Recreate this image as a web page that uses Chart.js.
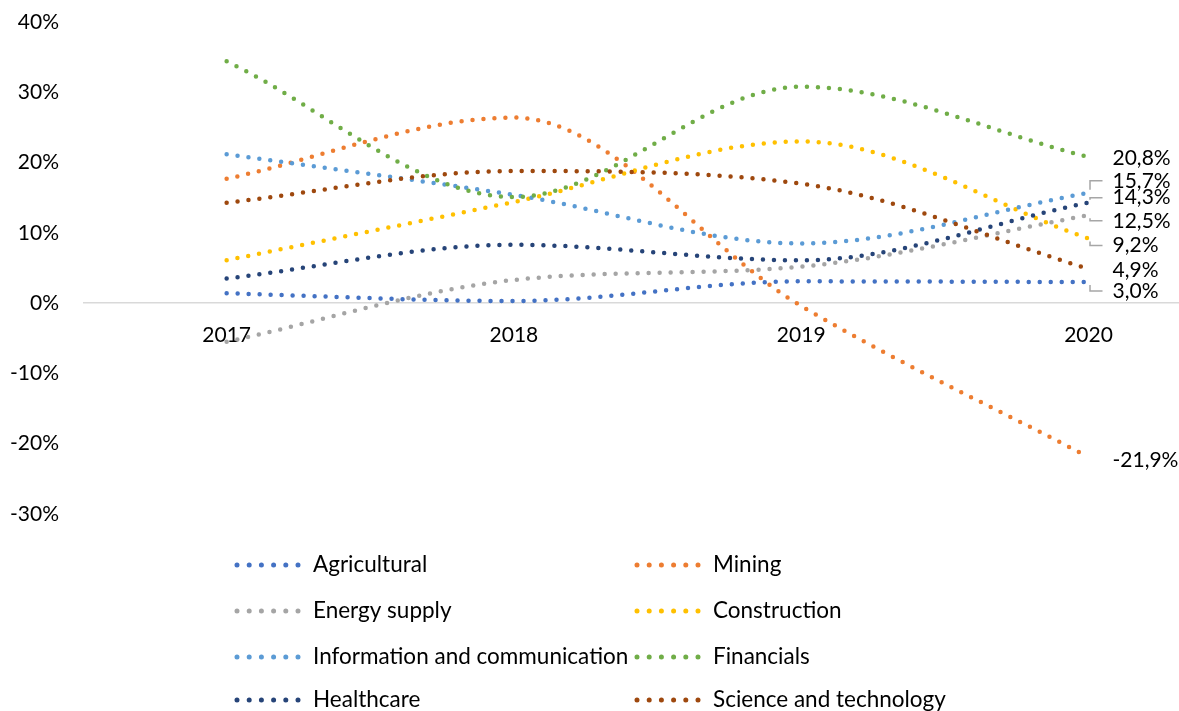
<!DOCTYPE html>
<html>
<head>
<meta charset="utf-8">
<script src="https://cdn.jsdelivr.net/npm/chart.js@4.4.1/dist/chart.umd.min.js"></script>
<style>
  html, body { margin: 0; padding: 0; background: #fff; overflow: hidden; }
  #wrap { width: 1179px; height: 711px; }
</style>
</head>
<body>
<div id="wrap"><canvas id="sector-chart" width="1179" height="711"></canvas></div>
<script>
var years = [2017, 2018, 2019, 2020];
var seriesNames = ["Agricultural", "Mining", "Energy supply", "Construction",
  "Information and communication", "Financials", "Healthcare", "Science and technology"];

var agricultural = [1.4, 0.3, 3.1, 3.0];
var mining = [17.7, 26.4, -0.4, -21.9];
var energySupply = [-5.5, 3.3, 5.2, 12.5];
var construction = [6.1, 14.4, 23.0, 9.2];
var infoComm = [21.2, 15.4, 8.5, 15.7];
var financials = [34.4, 15.1, 30.8, 20.8];
var healthcare = [3.5, 8.3, 6.1, 14.3];
var scienceTech = [14.3, 18.8, 17.0, 4.9];

var seriesValues = [agricultural, mining, energySupply, construction, infoComm, financials, healthcare, scienceTech];
var colors = ["#4472C4", "#ED7D31", "#A5A5A5", "#FFC000", "#5B9BD5", "#70AD47", "#264478", "#9E480E"];

// vertical shift of the 2020 value labels (px), leader line when shifted
var labelShift = [9, 3, 5.5, 7, -12, 1, -5, 2];

Chart.defaults.font.family = "Lato, 'Noto Sans', sans-serif";
Chart.defaults.font.size = 21;
Chart.defaults.color = "#000";

var datasets = seriesValues.map(function (vals, i) {
  return {
    label: seriesNames[i],
    data: years.map(function (yr, j) { return { x: yr, y: vals[j] }; }),
    borderColor: colors[i],
    backgroundColor: colors[i],
    borderWidth: 4.5,
    borderDash: [0, 11],
    borderCapStyle: "round",
    borderJoinStyle: "round",
    pointRadius: 0,
    cubicInterpolationMode: "monotone",
    fill: false,
    order: seriesValues.length - i
  };
});

var endLabels = {
  id: "endLabels",
  afterDatasetsDraw: function (chart) {
    var ctx = chart.ctx;
    ctx.save();
    ctx.font = "21px Lato, 'Noto Sans', sans-serif";
    ctx.textBaseline = "middle";
    ctx.textAlign = "left";
    chart.data.datasets.forEach(function (ds, i) {
      var pt = chart.getDatasetMeta(i).data[years.length - 1];
      var v = seriesValues[i][years.length - 1];
      var lx = pt.x + 24;
      var ly = pt.y + labelShift[i];
      if (Math.abs(labelShift[i]) > 4) {
        var sgn = labelShift[i] > 0 ? 1 : -1;
        ctx.strokeStyle = "#A6A6A6";
        ctx.lineWidth = 1.5;
        ctx.setLineDash([]);
        ctx.beginPath();
        ctx.moveTo(pt.x + 1.5, pt.y + sgn * 3);
        ctx.lineTo(pt.x + 1.5, ly);
        ctx.lineTo(lx - 10, ly);
        ctx.stroke();
      }
      ctx.fillStyle = "#000";
      ctx.fillText(v.toFixed(1).replace(".", ",") + "%", lx, ly);
    });
    ctx.restore();
  }
};

var gridLegend = {
  id: "gridLegend",
  afterDraw: function (chart) {
    var ctx = chart.ctx;
    var dotX = [237, 637];
    var textX = [313, 713];
    var rowY = [565, 611, 657, 700];
    ctx.save();
    ctx.font = "22.5px Lato, 'Noto Sans', sans-serif";
    ctx.textBaseline = "middle";
    ctx.textAlign = "left";
    chart.data.datasets.forEach(function (ds, i) {
      var col = i % 2, row = Math.floor(i / 2);
      var y = rowY[row];
      ctx.strokeStyle = ds.borderColor;
      ctx.lineWidth = 5;
      ctx.lineCap = "round";
      ctx.setLineDash([0, 12.2]);
      ctx.beginPath();
      ctx.moveTo(dotX[col], y);
      ctx.lineTo(dotX[col] + 61.5, y);
      ctx.stroke();
      ctx.fillStyle = "#000";
      ctx.fillText(ds.label, textX[col], y);
    });
    ctx.restore();
  }
};

new Chart(document.getElementById("sector-chart"), {
  type: "line",
  data: { datasets: datasets },
  options: {
    responsive: false,
    animation: false,
    layout: { padding: { left: 0, right: 0, top: 22, bottom: 197 } },
    plugins: {
      legend: { display: false },
      tooltip: { enabled: false }
    },
    scales: {
      x: {
        type: "linear",
        min: 2016.5,
        max: 2020.315,
        position: { y: 0 },
        grid: { display: false, drawTicks: false },
        border: { display: false },
        afterBuildTicks: function (scale) {
          scale.ticks = years.map(function (v) { return { value: v }; });
        },
        afterFit: function (scale) { scale.height = 0; },
        ticks: {
          padding: 19,
          maxRotation: 0,
          callback: function (v) { return String(v); }
        }
      },
      y: {
        min: -30,
        max: 40,
        afterFit: function (scale) {
          scale.width = 83;
          scale.paddingTop = 0;
          scale.paddingBottom = 0;
        },
        grid: {
          drawTicks: false,
          lineWidth: 1.5,
          color: function (c) { return c.tick && c.tick.value === 0 ? "#D9D9D9" : "rgba(0,0,0,0)"; }
        },
        border: { display: false },
        ticks: {
          stepSize: 10,
          padding: 24,
          callback: function (v) { return v + "%"; }
        }
      }
    }
  },
  plugins: [endLabels, gridLegend]
});
</script>
</body>
</html>
